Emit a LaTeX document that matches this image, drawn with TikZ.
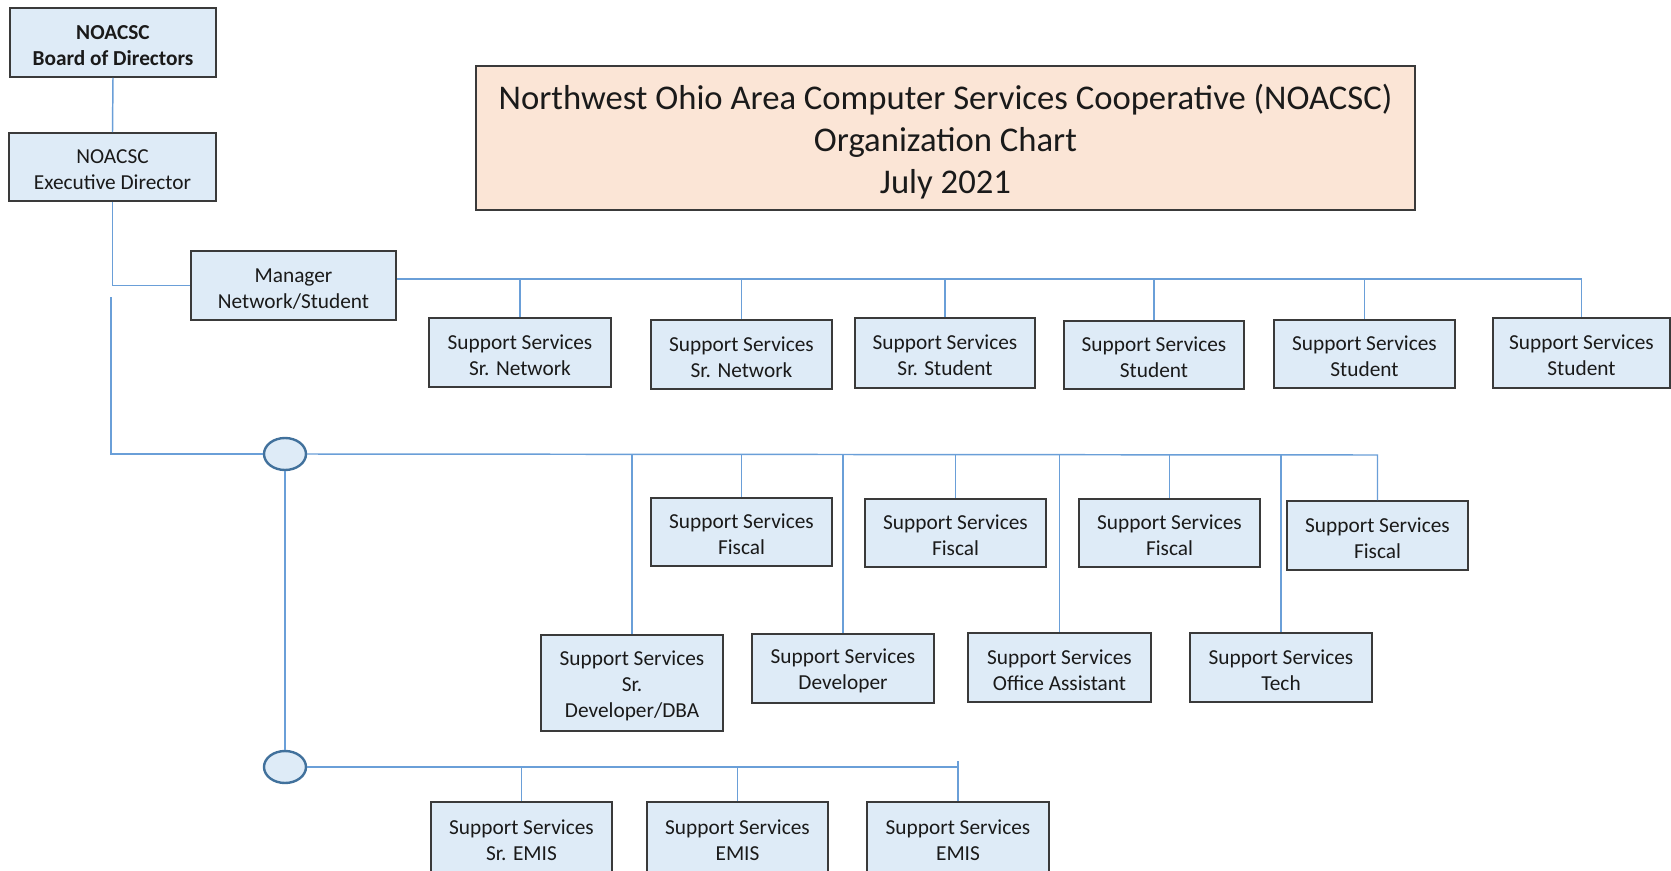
\documentclass[tikz,border=0pt]{standalone}
\usepackage{fontspec}
\setmainfont{Carlito}
\usetikzlibrary{shapes.geometric}
\definecolor{boxfill}{HTML}{DEEBF7}
\definecolor{boxline}{HTML}{3A3A3A}
\definecolor{titlefill}{HTML}{FBE5D6}
\definecolor{connblue}{HTML}{6A9FD8}
\definecolor{ringblue}{HTML}{41719C}
\definecolor{txt}{HTML}{1A1A1A}

% orgbox{name}{left}{top}{right}{bottom}{text}, positions in pixel units;
% the strut on the first line lowers the text block a little
\newcommand\orgbox[6]{%
  \node[box, minimum width={(#4-#2)*0.75pt}, minimum height={(#5-#3)*0.75pt}]
    (#1) at ({(#2+#4)/2},{(#3+#5)/2}) {\rule{0pt}{15pt}#6};}

\begin{document}
\begin{tikzpicture}[x=0.75pt,y=-0.75pt,
  box/.style={draw=boxline, line width=1.4pt, fill=boxfill, align=center,
    inner sep=0pt, text=txt, font=\fontsize{16}{19.5}\selectfont},
  titlebox/.style={draw=boxline, line width=1.3pt, fill=titlefill, align=center,
    inner sep=0pt, text=txt, font=\fontsize{26}{31.5}\selectfont},
  ring/.style={ellipse, draw=ringblue, line width=1.8pt, fill=boxfill,
    minimum width=31.5pt, minimum height=24pt, inner sep=0pt},
  conn/.style={draw=connblue, line width=1.1pt}]

\useasboundingbox (0,0) rectangle (1671,871);
\fill[white] (0,0) rectangle (1671,871);

% title
\node[titlebox, minimum width={939*0.75pt}, minimum height={144*0.75pt}]
  (title) at (945.5,138)
  {\rule{0pt}{24pt}Northwest Ohio Area Computer Services Cooperative (NOACSC)\\Organization Chart\\July 2021};

% leadership
\orgbox{board}{10}{8}{216}{77}{\bfseries NOACSC\\\bfseries Board of Directors}
\orgbox{exec}{9}{133}{216}{201}{NOACSC\\Executive Director}
\orgbox{mgr}{191}{251}{396}{320}{Manager\\Network/Student}

% network / student staff
\orgbox{s1}{429}{318}{611}{387}{Support Services\\Sr. Network}
\orgbox{s2}{651}{320}{832}{389}{Support Services\\Sr. Network}
\orgbox{s3}{855}{318}{1035}{388}{Support Services\\Sr. Student}
\orgbox{s4}{1064}{321}{1244}{389}{Support Services\\Student}
\orgbox{s5}{1274}{320}{1455}{388}{Support Services\\Student}
\orgbox{s6}{1493}{318}{1670}{388}{Support Services\\Student}

% fiscal staff
\orgbox{f1}{651}{498}{832}{566}{Support Services\\Fiscal}
\orgbox{f2}{865}{499}{1046}{567}{Support Services\\Fiscal}
\orgbox{f3}{1079}{499}{1260}{567}{Support Services\\Fiscal}
\orgbox{f4}{1287}{501}{1468}{570}{Support Services\\Fiscal}

% developer / office staff
\orgbox{d1}{541}{635}{723}{731}{Support Services\\Sr.\\Developer/DBA}
\orgbox{d2}{752}{634}{934}{703}{Support Services\\Developer}
\orgbox{d3}{968}{633}{1151}{702}{Support Services\\Office Assistant}
\orgbox{d4}{1190}{633}{1372}{702}{Support Services\\Tech}

% EMIS staff
\orgbox{e1}{431}{802}{612}{874}{Support Services\\Sr. EMIS}
\orgbox{e2}{647}{802}{828}{874}{Support Services\\EMIS}
\orgbox{e3}{867}{802}{1049}{874}{Support Services\\EMIS}

% junction rings
\node[ring] (r1) at (285,454) {};
\node[ring] (r2) at (285,767) {};

% bus levels
\coordinate (tb) at (0,279);
\coordinate (mb) at (0,455);
\coordinate (eb) at (0,767);
\coordinate (ebt) at (0,761);
\coordinate (sp) at (111,297);

% connectors
\draw[conn] (board.south) -- (exec.north);
\draw[conn] (exec.south) -- (exec.south |- mgr.west) -- (mgr.west);

\draw[conn] (mgr.east |- tb) -- (s6.north |- tb) -- (s6.north);
\foreach \n in {s1,s2,s3,s4,s5}
  \draw[conn] (\n.north) -- (\n.north |- tb);

\draw[conn] (sp) -- (sp |- r1) -- (r1.west);
\draw[conn] (r1.east) -- (f4.north |- mb) -- (f4.north);
\foreach \n in {f1,f2,f3,d1,d2,d3,d4}
  \draw[conn] (\n.north) -- (\n.north |- mb);

\draw[conn] (r1.south) -- (r2.north);
\draw[conn] (r2.east) -- (e3.north |- eb);
\draw[conn] (e3.north) -- (e3.north |- ebt);
\foreach \n in {e1,e2}
  \draw[conn] (\n.north) -- (\n.north |- eb);
\end{tikzpicture}
\end{document}
